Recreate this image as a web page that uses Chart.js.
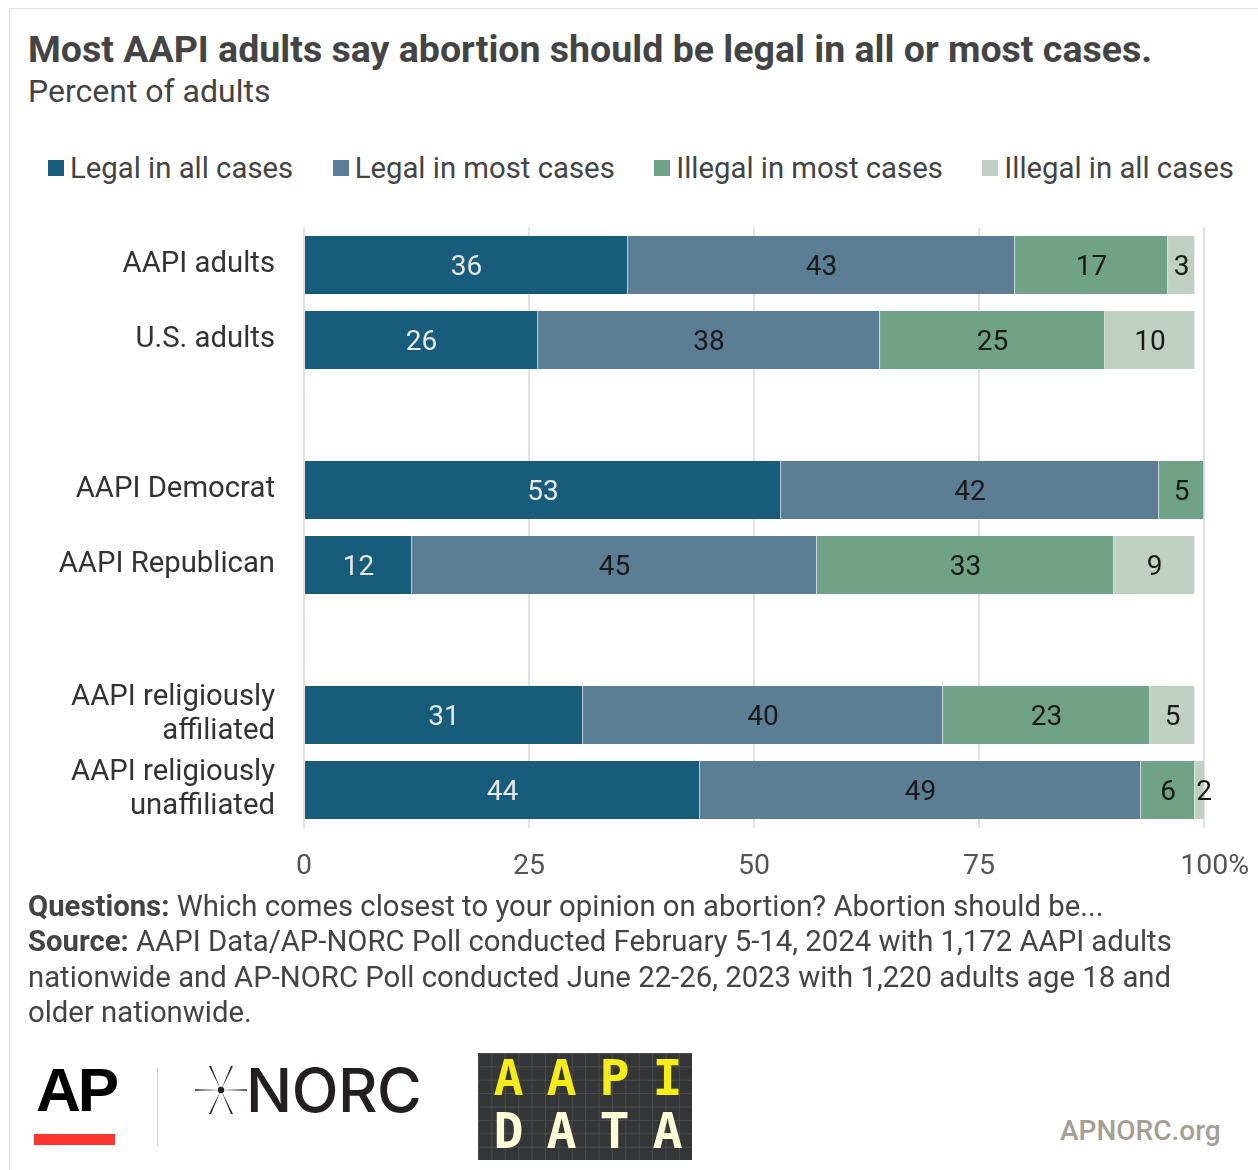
<!DOCTYPE html>
<html>
<head>
<meta charset="utf-8">
<script src="https://cdn.jsdelivr.net/npm/chart.js@4.4.1/dist/chart.umd.min.js"></script>
<style>
  html, body { margin: 0; padding: 0; background: #fff; }
  body { width: 1258px; height: 1170px; position: relative; overflow: hidden; font-family: Roboto, "Noto Sans", sans-serif; color: #444; }
  .frame { position: absolute; left: 9px; top: 8px; width: 1260px; height: 1180px; border-left: 1px solid #e2e2e2; border-top: 1px solid #e2e2e2; }
  .title { position: absolute; left: 28px; top: 27px; font-size: 37.5px; font-weight: 700; color: #444; white-space: nowrap; }
  .subtitle { position: absolute; left: 28px; top: 72px; font-size: 32px; color: #444; white-space: nowrap; }
  .legend { position: absolute; left: 48px; top: 151px; display: flex; gap: 39.5px; font-size: 29.3px; color: #444; white-space: nowrap; }
  .legend span.item { display: flex; align-items: center; }
  .legend i { display: inline-block; width: 16px; height: 16px; margin-right: 6px; }
  #wrap { position: absolute; left: 0; top: 220px; width: 1258px; height: 670px; }
  .notes { position: absolute; left: 28px; top: 889px; width: 1170px; font-size: 29.3px; line-height: 35.3px; color: #444; }
  .notes b { font-weight: 700; }
  .ap { position: absolute; left: 36px; top: 1054px; font-family: "Liberation Sans Narrow", "Liberation Sans", sans-serif; font-weight: 700; font-size: 62px; letter-spacing: -3px; color: #000; }
  .apbar { position: absolute; left: 34px; top: 1134px; width: 81px; height: 11px; background: #fe3430; }
  .sep { position: absolute; left: 157px; top: 1068px; width: 1px; height: 78px; background: #d4d2cc; }
  .norc { position: absolute; left: 246px; top: 1053px; font-family: Inter, "Noto Sans", sans-serif; font-weight: 500; font-size: 61px; color: #231f20; letter-spacing: -0.5px; }
  .star { position: absolute; left: 195px; top: 1066px; }
  .aapi { position: absolute; left: 478px; top: 1053px; width: 214px; height: 107px; background-color: #333536;
          background-image: linear-gradient(#4a4c4d 1px, transparent 1px), linear-gradient(90deg, #4a4c4d 1px, transparent 1px);
          background-size: 13.4px 13.4px; }
  .aapi div { position: absolute; width: 53px; text-align: center; font-family: "DejaVu Sans Mono", monospace; font-weight: 700; font-size: 50px; }
  .org { position: absolute; left: 1060px; top: 1114px; font-size: 28px; font-weight: 500; color: #a69f95; }
</style>
</head>
<body>
<div class="frame"></div>
<div class="title">Most AAPI adults say abortion should be legal in all or most cases.</div>
<div class="subtitle">Percent of adults</div>
<div class="legend" id="legend"></div>
<div id="wrap"><canvas id="chart" width="1258" height="670"></canvas></div>
<div class="notes">
  <div><b>Questions:</b> Which comes closest to your opinion on abortion? Abortion should be...</div>
  <div><b>Source:</b> AAPI Data/AP-NORC Poll conducted February 5-14, 2024 with 1,172 AAPI adults nationwide and AP-NORC Poll conducted June 22-26, 2023 with 1,220 adults age 18 and older nationwide.</div>
</div>
<div class="ap">AP</div>
<div class="apbar"></div>
<div class="sep"></div>
<svg class="star" width="52" height="48" viewBox="0 0 52 48">
  <polygon points="26,24 0,23.2 0,24.8" fill="#231f20"/>
  <polygon points="26,24 52,23.2 52,24.8" fill="#231f20"/>
  <polygon points="26,24 14,0 16,0" fill="#231f20"/>
  <polygon points="26,24 36,0 38,0" fill="#231f20"/>
  <polygon points="26,24 14,48 16,48" fill="#231f20"/>
  <polygon points="26,24 36,48 38,48" fill="#231f20"/>
  <circle cx="26" cy="24" r="3.2" fill="#231f20"/>
</svg>
<div class="norc">NORC</div>
<div class="aapi" id="aapi"></div>
<div class="org">APNORC.org</div>

<script>
// categories (empty strings are spacer rows between groups)
const categories = [
  'AAPI adults', 'U.S. adults', '',
  'AAPI Democrat', 'AAPI Republican', '',
  ['AAPI religiously', 'affiliated'], ['AAPI religiously', 'unaffiliated']
];
const seriesNames = ['Legal in all cases', 'Legal in most cases', 'Illegal in most cases', 'Illegal in all cases'];
const legalAll     = [36, 26, null, 53, 12, null, 31, 44];
const legalMost    = [43, 38, null, 42, 45, null, 40, 49];
const illegalMost  = [17, 25, null, 5, 33, null, 23, 6];
const illegalAll   = [3, 10, null, null, 9, null, 5, 2];
const xTicks = [0, 25, 50, 75, 100];

const colors = ['#185c7b', '#5b7e94', '#6fa287', '#c0d0c4'];
const labelColors = ['#e8e8e8', '#1a1a1a', '#1a1a1a', '#1a1a1a'];
const seriesValues = [legalAll, legalMost, illegalMost, illegalAll];

// html legend
const legend = document.getElementById('legend');
seriesNames.forEach((name, i) => {
  const s = document.createElement('span');
  s.className = 'item';
  s.innerHTML = '<i style="background:' + colors[i] + '"></i>' + name;
  legend.appendChild(s);
});

// AAPI DATA logo letters
const aapi = document.getElementById('aapi');
[['A', 'A', 'P', 'I'], ['D', 'A', 'T', 'A']].forEach((row, r) => {
  row.forEach((ch, c) => {
    const d = document.createElement('div');
    d.textContent = ch;
    d.style.left = (4 + c * 53) + 'px';
    d.style.top = (r === 0 ? -4 : 49) + 'px';
    d.style.color = r === 0 ? '#f5ec1c' : '#fdfbd8';
    aapi.appendChild(d);
  });
});

const valueLabels = {
  id: 'valueLabels',
  afterDatasetsDraw(chart) {
    const ctx = chart.ctx;
    ctx.save();
    ctx.font = '28px Roboto';
    ctx.textAlign = 'center';
    ctx.textBaseline = 'middle';
    chart.data.datasets.forEach((ds, i) => {
      const meta = chart.getDatasetMeta(i);
      meta.data.forEach((bar, j) => {
        const v = ds.data[j];
        if (v === null || v === undefined) return;
        ctx.fillStyle = labelColors[i];
        ctx.fillText(String(v), (bar.x + bar.base) / 2, bar.y + 3);
      });
    });
    ctx.restore();
  }
};

new Chart(document.getElementById('chart'), {
  type: 'bar',
  data: {
    labels: categories,
    datasets: seriesNames.map((name, i) => ({
      label: name,
      data: seriesValues[i],
      backgroundColor: colors[i],
      borderColor: 'rgba(255,255,255,0.45)',
      borderWidth: { right: 1 },
      borderSkipped: false,
      barThickness: 58,
      clip: 0
    }))
  },
  options: {
    indexAxis: 'y',
    responsive: false,
    animation: false,
    layout: { padding: { top: 7.5, right: 54, left: 0, bottom: 0 } },
    plugins: { legend: { display: false }, tooltip: { enabled: false } },
    scales: {
      x: {
        stacked: true,
        min: 0,
        max: 100,
        afterBuildTicks: (axis) => { axis.ticks = xTicks.map(v => ({ value: v })); },
        afterFit: (axis) => { axis.height = 62.5; axis.paddingLeft = 0; axis.paddingRight = 0; },
        grid: { color: '#e2e2e2', lineWidth: 2, drawTicks: false },
        border: { display: false },
        ticks: {
          padding: 22,
          color: '#555',
          font: { family: 'Roboto', size: 28.5 },
          // leading spaces nudge the % label right so "100" sits over the line
          callback: (v) => v === 100 ? '   100%' : String(v)
        }
      },
      y: {
        stacked: true,
        afterFit: (axis) => { axis.width = 304; axis.paddingTop = 0; axis.paddingBottom = 0; },
        grid: { display: false, drawTicks: false },
        border: { display: false },
        ticks: {
          autoSkip: false,
          padding: 29,
          color: '#333',
          font: { family: 'Roboto', size: 29.3, lineHeight: 1.16 }
        }
      }
    }
  },
  plugins: [valueLabels]
});
</script>
</body>
</html>
